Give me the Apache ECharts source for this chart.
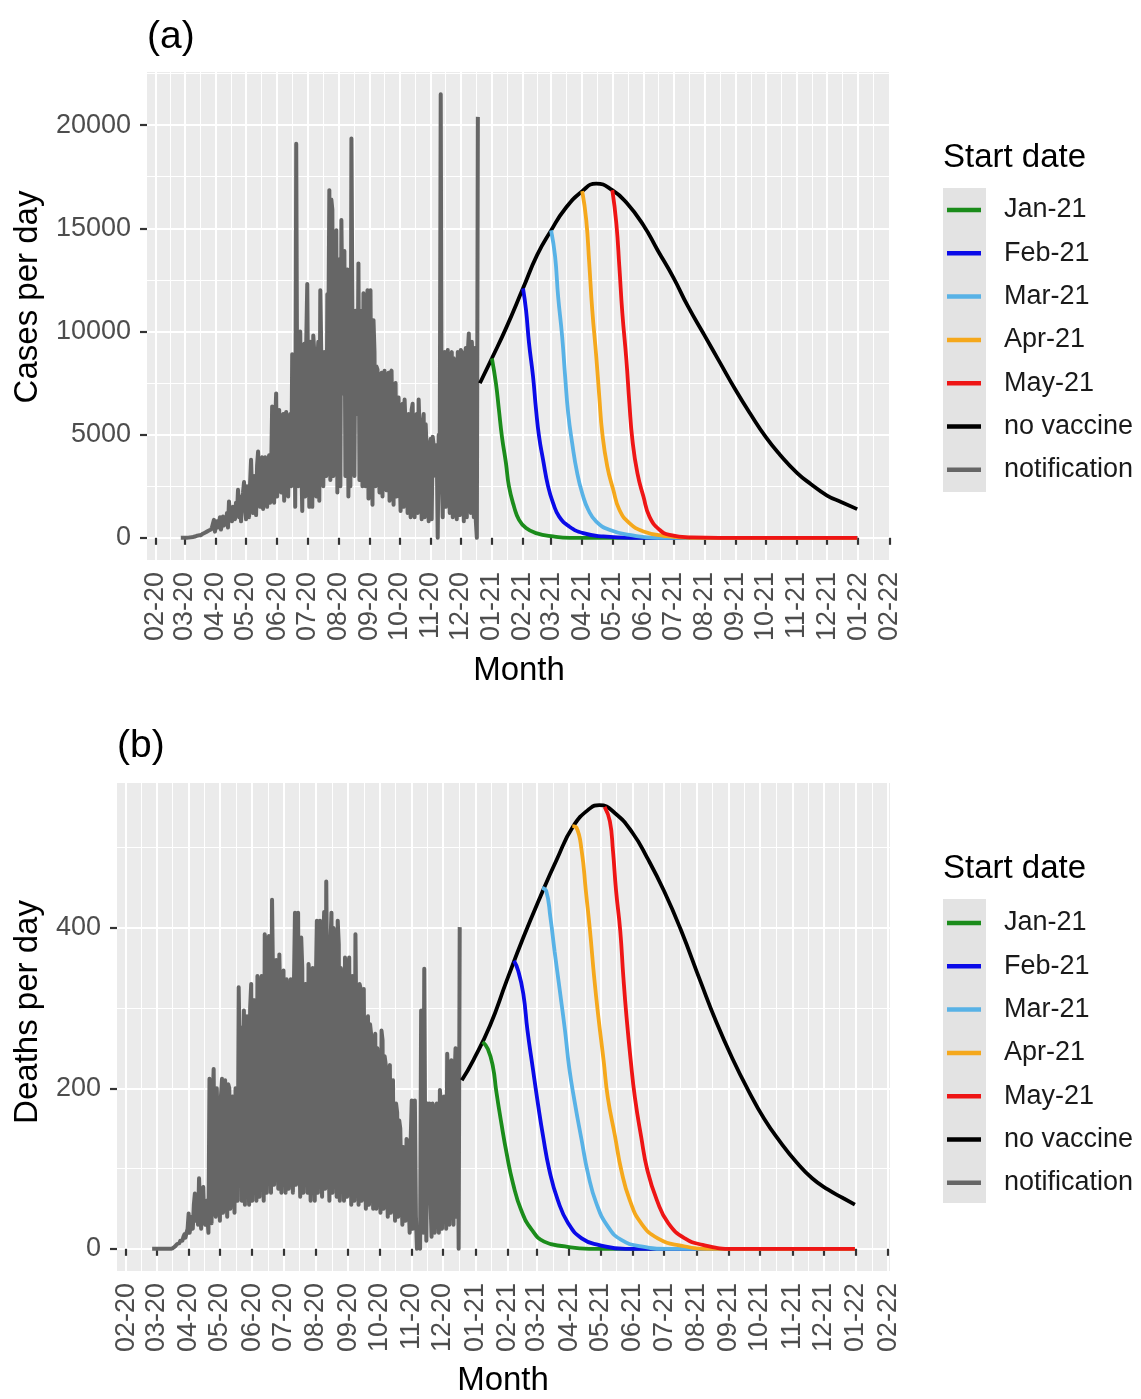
<!DOCTYPE html>
<html><head><meta charset="utf-8">
<script src="https://cdn.jsdelivr.net/npm/echarts@6/dist/echarts.min.js"></script>
<style>html,body{margin:0;padding:0;background:#fff}#c{width:1141px;height:1399px}</style>
</head><body><div id="c"></div>
<script>
const FONT = 'Liberation Sans, Arial, sans-serif';

// ---------- DATA ----------
const notifStart = '2020-02-26';
// daily notified cases from 2020-02-26
const casesNotif = [
0,0,0,2,5,3,8,
10,15,20,25,30,40,50,
60,80,100,90,120,150,130,
150,200,180,250,220,300,280,
350,300,400,500,450,870,300,
600,800,500,700,1000,400,650,
1030,600,900,700,1200,500,1760,
1100,1400,800,1500,1300,900,1700,
1200,2330,1000,2000,800,1800,2200,
2700,1500,900,2500,2300,1000,2600,
3780,2000,1200,3000,2500,1100,3500,
4180,3000,1500,3800,3900,1400,3600,
3900,2800,1500,3700,4000,1700,3200,
6360,3500,1700,5500,7000,2000,5000,
6200,4000,2200,5800,6000,1800,5500,
6100,3500,2000,5700,6000,2500,8900,
7000,8000,1500,19100,6000,2500,9900,
10000,4000,1300,9000,9400,2000,9500,
12300,6000,1500,9500,8000,1500,9800,
9000,5000,2000,8500,9500,1800,12000,
8900,4000,2500,9000,8000,3000,11800,
9500,16850,2800,16400,15900,3000,13000,
12000,14900,2200,13500,12000,2500,15400,
11000,7000,13900,3000,12500,13000,2000,
11500,2500,19350,11000,10000,3000,11000,
9000,6000,13300,2800,11000,10000,2500,
11850,5000,2500,10500,12000,1900,9800,
12000,5000,1600,10550,9000,2500,8300,
8150,4000,2200,7800,8000,2000,7500,
8100,5000,2300,7600,8000,1800,8000,
8100,4500,1600,7000,7500,2000,6500,
6800,3500,1300,6000,6500,1500,6700,
6680,4000,1200,6000,5800,1000,6200,
6500,3000,1000,5800,6000,1200,6700,
6700,3500,900,5500,6000,1000,5500,
5500,3000,800,4500,4800,900,4900,
4900,4000,3000,4500,0,5000,4000,
21500,3000,1000,8800,9000,1500,8500,
9100,4000,1200,8800,9000,1000,8700,
8700,3500,900,9000,8800,1100,9100,
9000,4000,800,8500,9200,1000,9000,
9900,5000,1200,9500,8000,1000,9200,
800,0,20400
];
// daily notified deaths from 2020-02-26
const deathsNotif = [
0,0,0,0,0,0,0,
0,0,0,0,0,0,0,
0,0,0,0,0,1,1,
2,3,5,6,8,7,10,
12,10,15,18,14,20,25,
44,20,30,40,25,55,69,
35,60,30,88,50,25,70,
77,35,30,60,40,20,212,
100,32,180,224,60,40,200,
198,80,35,190,212,45,150,
210,90,40,205,200,50,180,
190,100,45,200,180,60,326,
250,276,60,150,297,55,240,
290,120,55,300,330,60,250,
310,130,60,340,320,65,300,
340,150,60,392,380,70,300,
390,160,70,435,330,80,280,
360,150,75,367,300,70,300,
347,140,70,336,320,75,280,
336,130,70,330,419,80,300,
419,150,65,388,350,70,320,
330,140,70,355,340,60,300,
350,130,60,330,409,70,380,
409,150,65,380,420,75,458,
458,140,60,380,419,70,400,
390,150,65,409,380,60,350,
340,140,60,363,350,65,330,
363,130,55,340,320,60,392,
392,120,55,330,324,60,300,
324,120,50,280,290,55,280,
268,110,50,260,268,50,250,
250,100,45,272,260,50,240,
230,100,40,220,229,45,200,
210,90,35,181,170,40,160,
150,80,30,127,120,35,137,
130,60,20,137,185,25,120,
185,40,0,0,10,0,297,
150,20,349,100,10,181,120,
181,60,15,181,170,20,150,
181,70,20,198,180,25,170,
190,80,25,243,200,30,180,
235,90,30,210,250,40,230,
0,401
];

const casesNoVaccine = [['2020-12-20',7490],['2021-01-01',8700],['2021-01-15',10150],['2021-02-01',12090],['2021-02-15',13700],['2021-03-01',14900],['2021-03-15',15950],['2021-04-01',16800],['2021-04-15',17170],['2021-05-01',16850],['2021-05-15',16250],['2021-06-01',15150],['2021-06-15',13950],['2021-07-01',12600],['2021-07-15',11250],['2021-08-01',9800],['2021-08-15',8600],['2021-09-01',7150],['2021-09-15',6050],['2021-10-01',4880],['2021-10-15',4030],['2021-11-01',3150],['2021-11-15',2600],['2021-12-01',2050],['2021-12-15',1740],['2021-12-31',1390]];
const casesJan21 = [['2021-01-01',8700],['2021-01-05',7490],['2021-01-08',6200],['2021-01-11',4900],['2021-01-15',3620],['2021-01-18',2490],['2021-01-23',1520],['2021-01-28',870],['2021-02-04',470],['2021-02-14',226],['2021-03-03',65],['2021-03-20',0],['2021-12-31',0]];
const casesFeb21 = [['2021-02-01',12090],['2021-02-04',11040],['2021-02-07',9430],['2021-02-11',7810],['2021-02-14',6200],['2021-02-17',4910],['2021-02-21',3780],['2021-02-26',2490],['2021-03-03',1680],['2021-03-09',1030],['2021-03-19',550],['2021-04-02',226],['2021-04-22',65],['2021-05-20',0],['2021-12-31',0]];
const casesMar21 = [['2021-03-01',14900],['2021-03-05',13620],['2021-03-08',11690],['2021-03-12',9750],['2021-03-15',7810],['2021-03-18',6040],['2021-03-22',4580],['2021-03-27',3130],['2021-04-01',2160],['2021-04-07',1360],['2021-04-15',790],['2021-04-28',390],['2021-05-18',145],['2021-06-15',0],['2021-12-31',0]];
const casesApr21 = [['2021-04-01',16800],['2021-04-05',15400],['2021-04-08',13300],['2021-04-11',11040],['2021-04-15',8780],['2021-04-18',6840],['2021-04-21',5070],['2021-04-26',3450],['2021-05-02',2320],['2021-05-08',1360],['2021-05-18',710],['2021-06-01',310],['2021-06-21',100],['2021-07-20',0],['2021-12-31',0]];
const casesMay21 = [['2021-05-01',16850],['2021-05-05',15240],['2021-05-08',13140],['2021-05-11',10880],['2021-05-15',8620],['2021-05-18',6520],['2021-05-21',4750],['2021-05-26',3130],['2021-06-01',2000],['2021-06-07',1030],['2021-06-17',390],['2021-06-27',145],['2021-07-20',20],['2021-08-15',0],['2021-12-31',0]];

const deathsNoVaccine = [['2020-12-19',210],['2020-12-30',235],['2021-01-15',278],['2021-01-31',334],['2021-02-16',388],['2021-03-04',438],['2021-03-20',485],['2021-04-05',527],['2021-04-21',549],['2021-04-30',553],['2021-05-15',543],['2021-06-01',518],['2021-06-15',487],['2021-07-01',446],['2021-07-17',398],['2021-08-05',333],['2021-08-20',283],['2021-09-05',236],['2021-09-20',197],['2021-10-05',162],['2021-10-20',134],['2021-11-05',108],['2021-11-20',88],['2021-12-05',74],['2021-12-20',63],['2021-12-31',55]];
const deathsJan21 = [['2021-01-08',258],['2021-01-13',249],['2021-01-18',226],['2021-01-21',197],['2021-01-26',156],['2021-01-31',119],['2021-02-06',82],['2021-02-14',48],['2021-02-24',24],['2021-03-08',9],['2021-03-28',3],['2021-04-20',0],['2021-12-31',0]];
const deathsFeb21 = [['2021-02-07',359],['2021-02-11',347],['2021-02-16',318],['2021-02-20',272],['2021-02-25',226],['2021-03-02',181],['2021-03-07',140],['2021-03-13',98],['2021-03-21',61],['2021-03-31',32],['2021-04-13',13],['2021-04-29',5],['2021-05-25',0],['2021-12-31',0]];
const deathsMar21 = [['2021-03-06',450],['2021-03-10',446],['2021-03-14',413],['2021-03-18',371],['2021-03-23',322],['2021-03-28',272],['2021-04-01',226],['2021-04-06',185],['2021-04-13',135],['2021-04-19',94],['2021-04-27',57],['2021-05-08',28],['2021-05-21',11],['2021-06-09',3],['2021-07-05',0],['2021-12-31',0]];
const deathsApr21 = [['2021-04-04',527],['2021-04-08',525],['2021-04-13',496],['2021-04-17',446],['2021-04-21',396],['2021-04-25',338],['2021-04-29',289],['2021-05-04',235],['2021-05-08',189],['2021-05-15',140],['2021-05-21',98],['2021-05-29',61],['2021-06-09',32],['2021-06-25',13],['2021-07-17',4],['2021-08-15',0],['2021-12-31',0]];
const deathsMay21 = [['2021-05-05',551],['2021-05-10',533],['2021-05-13',496],['2021-05-16',446],['2021-05-20',396],['2021-05-23',338],['2021-05-26',289],['2021-05-30',235],['2021-06-03',189],['2021-06-09',140],['2021-06-15',98],['2021-06-24',61],['2021-07-05',32],['2021-07-21',13],['2021-08-07',5],['2021-09-05',0],['2021-12-31',0]];

const monthTicks = ['2020-02-01','2020-03-01','2020-04-01','2020-05-01','2020-06-01','2020-07-01','2020-08-01','2020-09-01','2020-10-01','2020-11-01','2020-12-01','2021-01-01','2021-02-01','2021-03-01','2021-04-01','2021-05-01','2021-06-01','2021-07-01','2021-08-01','2021-09-01','2021-10-01','2021-11-01','2021-12-01','2022-01-01','2022-02-01'];
const casesTicks = [0,5000,10000,15000,20000];
const deathsTicks = [0,200,400];
const legendNames = ['Jan-21','Feb-21','Mar-21','Apr-21','May-21','no vaccine','notification'];
const colors = {'Jan-21':'#1b8c1b','Feb-21':'#0a0ae8','Mar-21':'#58b2e6','Apr-21':'#f5a81c','May-21':'#ee1515','no vaccine':'#000000','notification':'#666666'};

// ---------- BUILD ----------
const parseDay = s => { const p = s.split('-').map(Number); return new Date(p[0], p[1]-1, p[2]).getTime(); };
function daily(start, values) {
  const p = start.split('-').map(Number);
  return values.map((v, i) => [new Date(p[0], p[1]-1, p[2] + i).getTime(), v]);
}
const pairs = arr => arr.map(d => [parseDay(d[0]), d[1]]);

const panels = [
  { notif: daily(notifStart, casesNotif), nov: pairs(casesNoVaccine),
    starts: [casesJan21, casesFeb21, casesMar21, casesApr21, casesMay21].map(pairs), ticks: casesTicks },
  { notif: daily(notifStart, deathsNotif), nov: pairs(deathsNoVaccine),
    starts: [deathsJan21, deathsFeb21, deathsMar21, deathsApr21, deathsMay21].map(pairs), ticks: deathsTicks }
];

// x range with 5% expansion (ggplot default)
let xLo = Infinity, xHi = -Infinity;
panels.forEach(p => [p.notif, p.nov, ...p.starts].forEach(s => s.forEach(d => { xLo = Math.min(xLo, d[0]); xHi = Math.max(xHi, d[0]); })));
const xr = xHi - xLo;
const xMin = xLo - 0.05 * xr, xMax = xHi + 0.05 * xr;
const majorX = monthTicks.map(parseDay);
const minorX = majorX.slice(1).map((t, i) => (t + majorX[i]) / 2);

panels.forEach(p => {
  let hi = 0, lo = 0;
  [p.notif, p.nov, ...p.starts].forEach(s => s.forEach(d => { hi = Math.max(hi, d[1]); lo = Math.min(lo, d[1]); }));
  const r = hi - lo;
  p.yMin = lo - 0.05 * r; p.yMax = hi + 0.05 * r;
  const step = p.ticks[1] - p.ticks[0];
  p.minorY = p.ticks.map(t => t + step / 2).concat([p.ticks[0] - step / 2]).filter(v => v >= p.yMin && v <= p.yMax);
});

const tickColor = '#333333';
const labelStyle = { fontFamily: FONT, fontSize: 27, color: '#4D4D4D' };
const pad = n => (n < 10 ? '0' : '') + n;

function mainX(g) {
  return { type: 'value', gridIndex: g, min: xMin, max: xMax, scale: true,
    axisLine: { show: false },
    axisTick: { show: true, customValues: majorX, length: 7, lineStyle: { color: tickColor, width: 2.2 } },
    axisLabel: Object.assign({ customValues: majorX, rotate: 90, margin: 12,
      formatter: v => { const d = new Date(v); return pad(d.getMonth() + 1) + '-' + pad(d.getFullYear() % 100); } }, labelStyle),
    splitLine: { show: true, lineStyle: { color: '#ffffff', width: 2 } } };
}
function minorXAxis(g) {
  return { type: 'value', gridIndex: g, min: xMin, max: xMax, scale: true,
    axisLine: { show: false }, axisTick: { show: false, customValues: minorX }, axisLabel: { show: false, customValues: minorX },
    splitLine: { show: true, lineStyle: { color: '#ffffff', width: 1 } } };
}
function mainY(g) {
  const p = panels[g];
  return { type: 'value', gridIndex: g, min: p.yMin, max: p.yMax,
    axisLine: { show: false },
    axisTick: { show: true, customValues: p.ticks, length: 7, lineStyle: { color: tickColor, width: 2.2 } },
    axisLabel: Object.assign({ customValues: p.ticks, margin: 16, formatter: v => String(v) }, labelStyle),
    splitLine: { show: true, lineStyle: { color: '#ffffff', width: 2 } } };
}
function minorYAxis(g) {
  const p = panels[g];
  return { type: 'value', gridIndex: g, min: p.yMin, max: p.yMax,
    axisLine: { show: false }, axisTick: { show: false, customValues: p.minorY }, axisLabel: { show: false, customValues: p.minorY },
    splitLine: { show: true, lineStyle: { color: '#ffffff', width: 1 } } };
}

const series = [];
panels.forEach((p, g) => {
  const ax = { xAxisIndex: g * 2, yAxisIndex: g * 2 };
  series.push(Object.assign({ type: 'line', name: 'notification', data: p.notif, showSymbol: false, symbol: 'none',
    lineStyle: { color: colors['notification'], width: 4, join: 'round' }, itemStyle: { color: colors['notification'] }, z: 2 }, ax));
  series.push(Object.assign({ type: 'line', name: 'no vaccine', data: p.nov, showSymbol: false, symbol: 'none', smooth: 0.5,
    lineStyle: { color: colors['no vaccine'], width: 3.8 }, itemStyle: { color: colors['no vaccine'] }, z: 3 }, ax));
  p.starts.forEach((s, i) => {
    const n = legendNames[i];
    series.push(Object.assign({ type: 'line', name: n, data: s, showSymbol: false, symbol: 'none', smooth: 0.5,
      lineStyle: { color: colors[n], width: 3.8 }, itemStyle: { color: colors[n] }, z: 4 + i }, ax));
  });
});

function legend(top) {
  return { orient: 'vertical', left: 947, top: top, padding: 0, itemWidth: 34, itemHeight: 4.5, itemGap: 13.3, icon: 'rect',
    data: legendNames, selectedMode: false,
    textStyle: { fontFamily: FONT, fontSize: 27, color: '#1a1a1a', lineHeight: 30, padding: [0, 0, 0, 18] } };
}

const txt = (text, x, y, size, extra) => Object.assign({ type: 'text', x: x, y: y, silent: true,
  style: { text: text, font: size + 'px ' + FONT, fill: '#000', align: 'left', verticalAlign: 'middle' } }, extra || {});

const graphic = [
  { type: 'rect', shape: { x: 943, y: 188, width: 43, height: 304 }, style: { fill: '#E3E3E3' }, silent: true, z: 0 },
  { type: 'rect', shape: { x: 943, y: 899, width: 43, height: 304 }, style: { fill: '#E3E3E3' }, silent: true, z: 0 },
  txt('Start date', 943, 158, 33),
  txt('Start date', 943, 869, 33),
  txt('(a)', 147, 37, 39),
  txt('(b)', 117, 746, 39),
  { type: 'text', x: 519, y: 671, silent: true, style: { text: 'Month', font: '33px ' + FONT, fill: '#000', align: 'center', verticalAlign: 'middle' } },
  { type: 'text', x: 503, y: 1381, silent: true, style: { text: 'Month', font: '33px ' + FONT, fill: '#000', align: 'center', verticalAlign: 'middle' } },
  { type: 'text', x: 28, y: 297, rotation: Math.PI / 2, silent: true, style: { text: 'Cases per day', font: '33px ' + FONT, fill: '#000', align: 'center', verticalAlign: 'middle' } },
  { type: 'text', x: 28, y: 1012, rotation: Math.PI / 2, silent: true, style: { text: 'Deaths per day', font: '33px ' + FONT, fill: '#000', align: 'center', verticalAlign: 'middle' } }
];

const chart = echarts.init(document.getElementById('c'), null, { renderer: 'canvas' });
chart.setOption({
  animation: false,
  backgroundColor: '#ffffff',
  textStyle: { fontFamily: FONT },
  grid: [
    { left: 147, top: 72, width: 744, height: 488, show: true, backgroundColor: '#EBEBEB', borderWidth: 0, containLabel: false },
    { left: 117, top: 783, width: 773, height: 488, show: true, backgroundColor: '#EBEBEB', borderWidth: 0, containLabel: false }
  ],
  xAxis: [mainX(0), minorXAxis(0), mainX(1), minorXAxis(1)],
  yAxis: [mainY(0), minorYAxis(0), mainY(1), minorYAxis(1)],
  legend: [legend(195), legend(908)],
  graphic: graphic,
  series: series
});
</script></body></html>
